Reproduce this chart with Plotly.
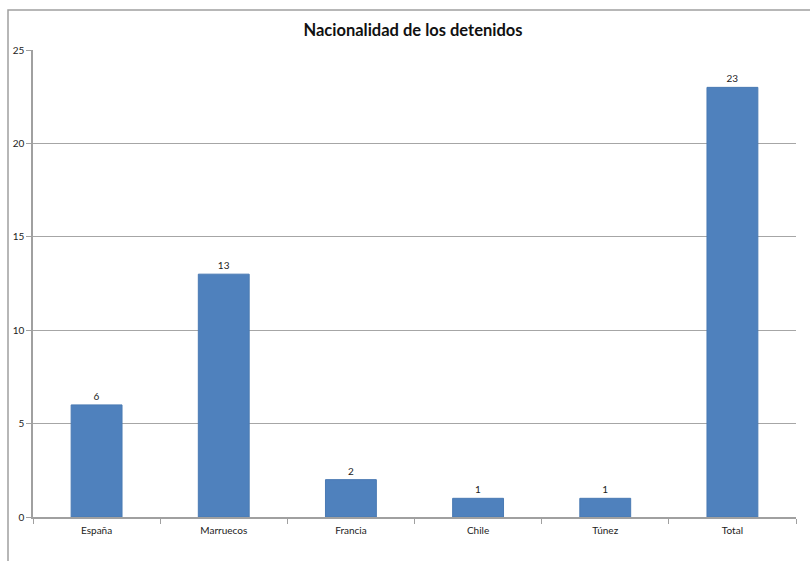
import plotly.graph_objects as go

categories = ["España", "Marruecos", "Francia", "Chile", "Túnez", "Total"]
values = [6, 13, 2, 1, 1, 23]
y_ticks = [0, 5, 10, 15, 20, 25]
title = "Nacionalidad de los detenidos"

W, H = 810, 561
L, R, T, B = 33, 14, 50, 44
pw, ph = W - L - R, H - T - B

fig = go.Figure(go.Bar(
    x=categories, y=values,
    marker=dict(color="#4F81BD", line=dict(color="#4A7AB3", width=1)),
    text=[str(v) for v in values], textposition="outside",
    textfont=dict(family="Lato, Open Sans, sans-serif", size=10, color="#222222"),
    cliponaxis=False,
))

fig.update_layout(
    width=W, height=H,
    margin=dict(l=L, r=R, t=T, b=B),
    paper_bgcolor="white", plot_bgcolor="white",
    bargap=0.6,
    showlegend=False,
    title=dict(text="<b>" + title + "</b>", x=(413 - L) / pw, xref="paper", xanchor="center",
               y=1 - 30 / H, yanchor="middle",
               font=dict(family="Lato, Open Sans, sans-serif", size=16.5, color="#111111")),
    font=dict(family="Lato, Open Sans, sans-serif", size=10, color="#222222"),
)

fig.update_xaxes(
    showline=True, linecolor="#A0A0A0", linewidth=1.5,
    ticks="outside", tickson="boundaries", ticklen=5, tickcolor="#A0A0A0",
    showgrid=False, tickfont=dict(size=10), ticklabelstandoff=3,
)
fig.update_yaxes(
    range=[0, 25], tickvals=y_ticks,
    showline=True, linecolor="#A0A0A0", linewidth=1.5,
    ticks="outside", ticklen=5, tickcolor="#A0A0A0",
    showgrid=True, gridcolor="#A6A6A6", gridwidth=1.2,
    zeroline=False, tickfont=dict(size=10),
)

# outer chart border (top and left visible; right/bottom fall outside the image)
fig.add_shape(type="rect", xref="paper", yref="paper",
              x0=(8 - L) / pw, x1=(W + 20 - L) / pw,
              y0=-(H + 20 - T - ph) / ph, y1=1 + (T - 10) / ph,
              line=dict(color="#A0A0A0", width=1.5), layer="below")

fig.write_html("out.html")
